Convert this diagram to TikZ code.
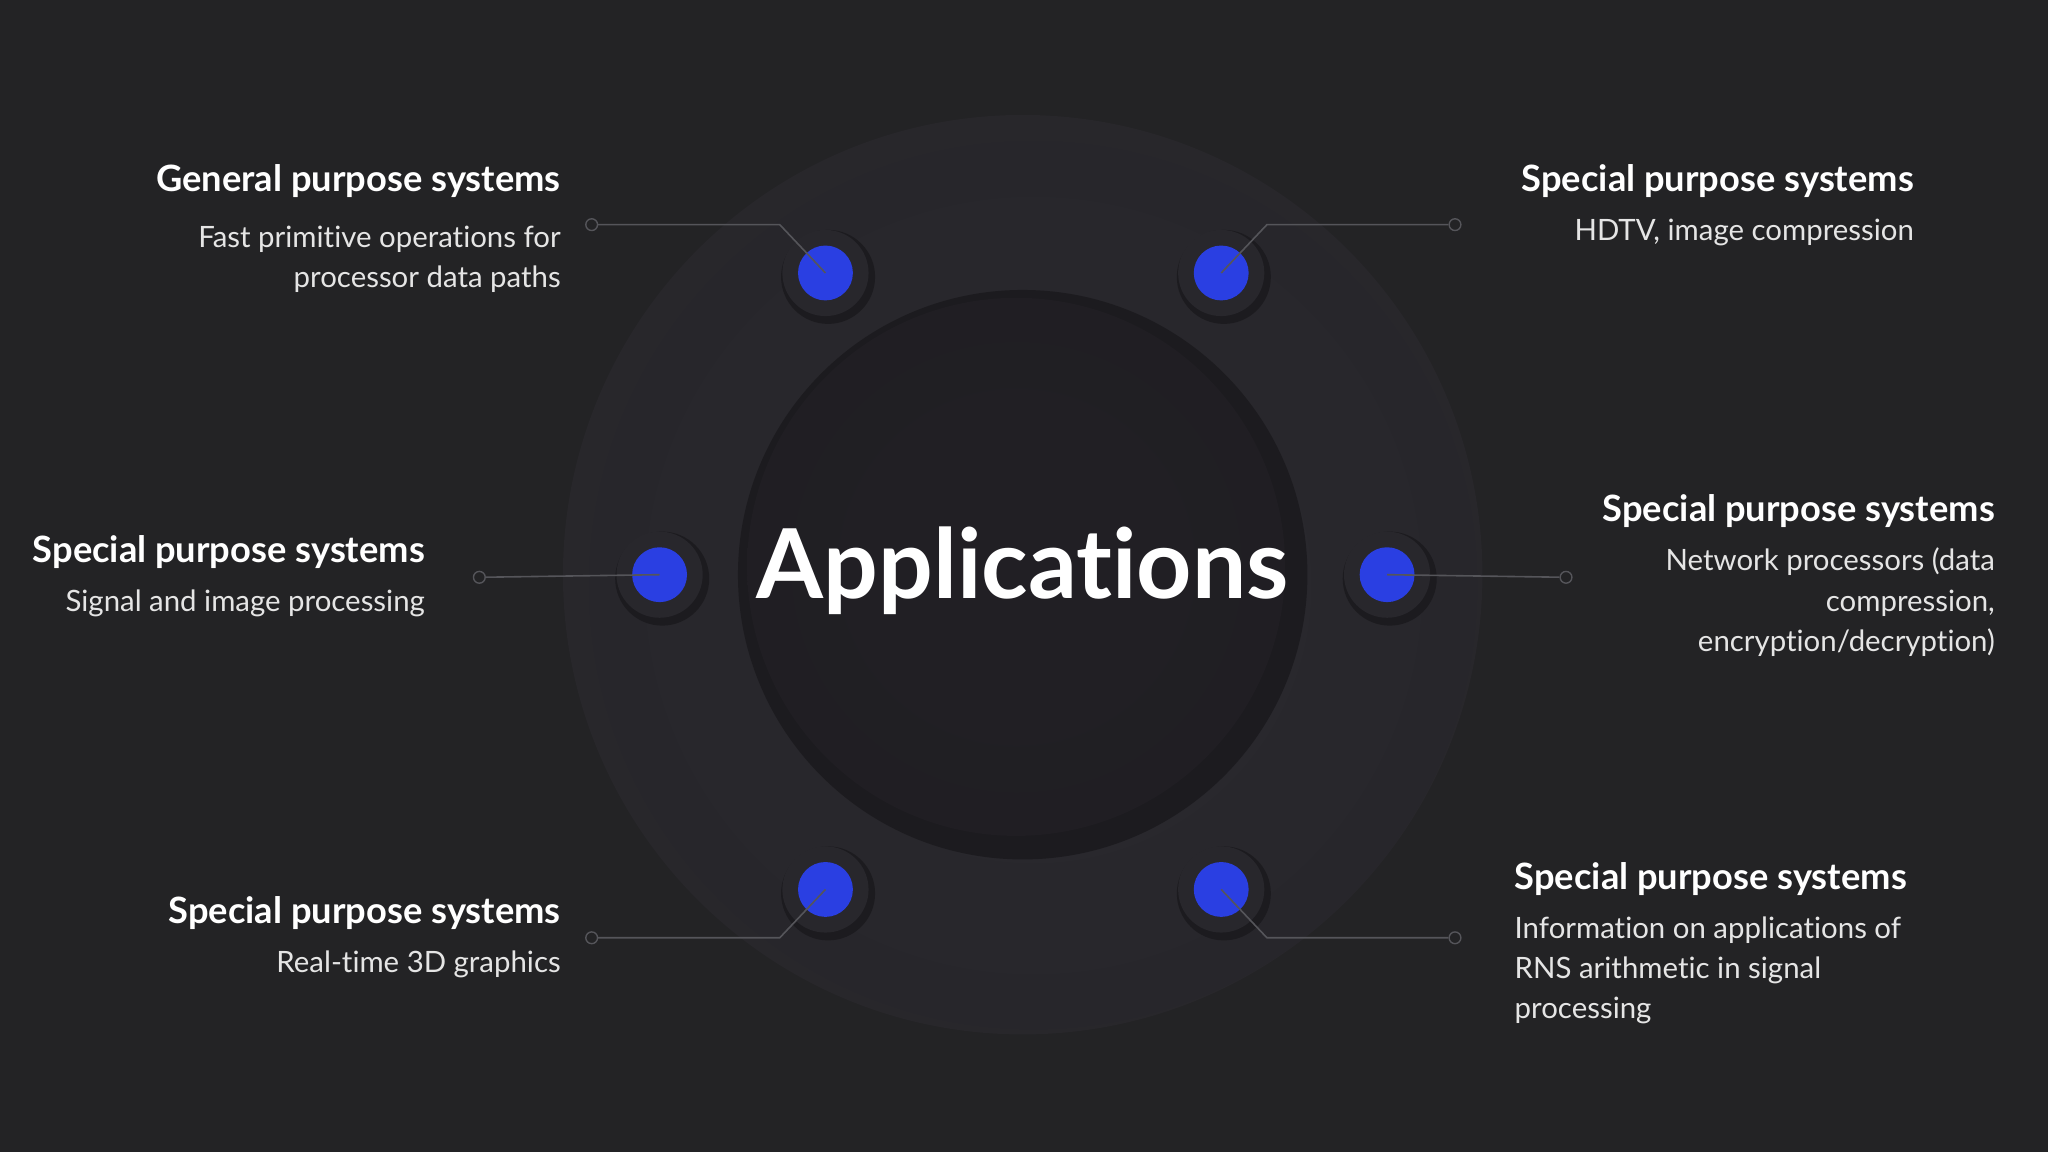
\documentclass[tikz,border=0pt]{standalone}
\usepackage{fontspec}
\setmainfont{Lato}[Ligatures={NoCommon,TeX}]
\usetikzlibrary{shadings}
\definecolor{bg}{HTML}{232325}
\definecolor{ringc}{HTML}{2B2A2F}
\definecolor{ringd}{HTML}{27262B}
\definecolor{disc}{HTML}{211F24}
\definecolor{dotb}{HTML}{2A3FE2}
\definecolor{halo}{HTML}{1C1B1F}
\definecolor{linec}{HTML}{55555A}
\tikzset{
 ttl/.style={font=\fontsize{7.9pt}{10pt}\selectfont\bfseries, text=white, inner sep=0},
 body/.style={font=\fontsize{6.4pt}{8.8pt}\selectfont, text=white!90!black, inner sep=0},
 conn/.style={draw=linec, line width=0.35pt},
 endc/.style={circle, draw=linec, line width=0.3pt, fill=bg, inner sep=0, minimum size=0.9mm},
}
\begin{document}
\begin{tikzpicture}[x=0.01cm,y=-0.01cm]
\fill[bg] (0,0) rectangle (1568,882);
\useasboundingbox (0,0) rectangle (1568,882);
% ring
\fill[ringc!60!bg] (783,440) circle (352);
\shade[inner color=ringc, outer color=ringd] (791,448) circle (340);
\shade[inner color=disc, outer color=halo] (783,440) circle (218);
\shade[inner color=disc, outer color=disc!85!halo] (778,434) circle (206);
% dots
\foreach \n/\x/\y in {a/632/209,b/935/209,c/505/440,d/1062/440,e/632/681,f/935/681}{
  \fill[halo] (\x+2,\y+3) circle (36);
  \fill[ringc!80!halo] (\x,\y) circle (33);
  \fill[dotb] (\x,\y) circle (21);
  \coordinate (\n) at (\x,\y);
}
% connectors
\node[endc] (ea) at (453,172) {};
\node[endc] (eb) at (1114,172) {};
\node[endc] (ec) at (367,442) {};
\node[endc] (ed) at (1199,442) {};
\node[endc] (ee) at (453,718) {};
\node[endc] (ef) at (1114,718) {};
\coordinate (ka) at (597,172); \coordinate (kb) at (970,172);
\coordinate (ke) at (597,718); \coordinate (kf) at (970,718);
\draw[conn] (a) -- (ka) -- (ea);
\draw[conn] (b) -- (kb) -- (eb);
\draw[conn] (c) -- (ec);
\draw[conn] (d) -- (ed);
\draw[conn] (e) -- (ke) -- (ee);
\draw[conn] (f) -- (kf) -- (ef);
% center
\node[font=\fontsize{21pt}{26pt}\selectfont\bfseries, text=white] (app) at (783,437) {Applications};
% texts
\node[ttl, anchor=base east] (t1) at (430,147) {General purpose systems};
\node[body, anchor=north east, align=right] (b1) at (430,172) {Fast primitive operations for\\processor data paths};
\node[ttl, anchor=base east] (t2) at (1466,147) {Special purpose systems};
\node[body, anchor=north east, align=right] (b2) at (1466,167) {HDTV, image compression};
\node[ttl, anchor=base east] (t3) at (326,431) {Special purpose systems};
\node[body, anchor=north east, align=right] (b3) at (326,451) {Signal and image processing};
\node[ttl, anchor=base east] (t4) at (1528,399) {Special purpose systems};
\node[body, anchor=north east, align=right] (b4) at (1528,419) {Network processors (data\\compression,\\encryption/decryption)};
\node[ttl, anchor=base east] (t5) at (430,707) {Special purpose systems};
\node[body, anchor=north east, align=right] (b5) at (430,727) {Real-time 3D graphics};
\node[ttl, anchor=base west] (t6) at (1159,681) {Special purpose systems};
\node[body, anchor=north west, align=left] (b6) at (1159,701) {Information on applications of\\RNS arithmetic in signal\\processing};
\end{tikzpicture}
\end{document}
